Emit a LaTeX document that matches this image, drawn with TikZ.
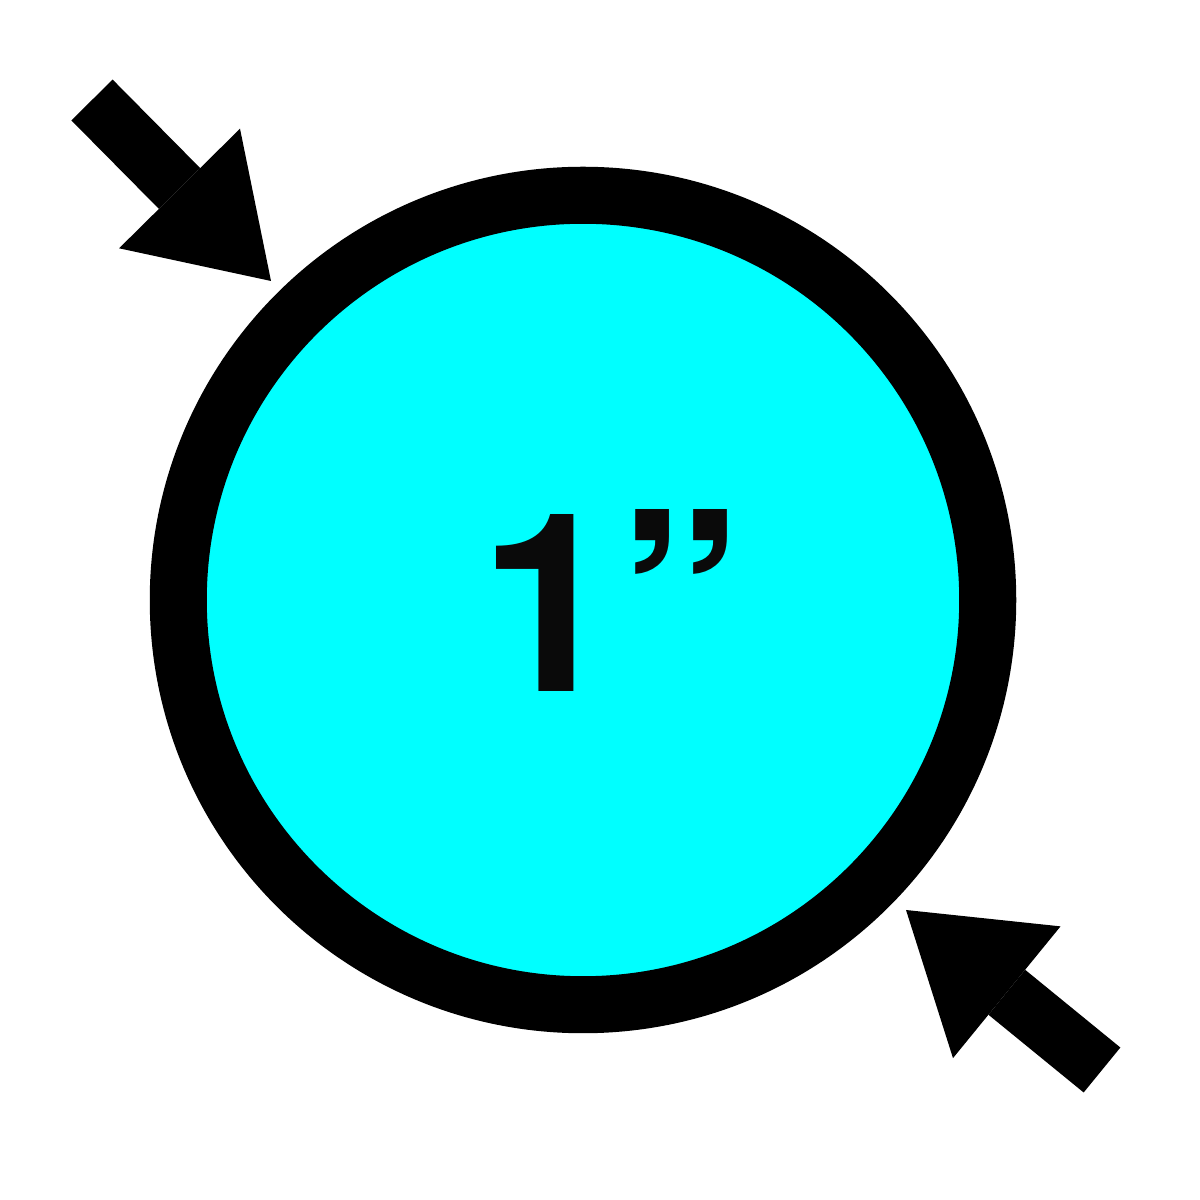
\documentclass[tikz,border=0pt]{standalone}
\usepackage{fontspec}
\newfontfamily\sizefont{TeX Gyre Heros}
\usetikzlibrary{arrows.meta}
\definecolor{pipecyan}{RGB}{0,255,255}

\begin{document}
\begin{tikzpicture}[x=0.01cm, y=0.01cm]
	\tikzstyle{ring}=[draw=black,circle,line width=0.57cm,fill=pipecyan,inner sep=0pt,minimum size=8.09cm]
	\tikzstyle{pointer}=[line width=0.58cm,-{Triangle[length=1.3cm,width=1.7cm,line width=0pt]}]
	\useasboundingbox (0,0) rectangle (1200,1200);

	\node [ring] (pipe) at (583,600) {};
	\node [font=\sizefont\bfseries\fontsize{71}{71}\selectfont,text=black!96] (size) at (611,600) {1”};

	\coordinate (tl tail) at (92,1100);
	\coordinate (tl tip) at (271,919);
	\coordinate (br tail) at (1102,130);
	\coordinate (br tip) at (906,290);

	\draw [pointer] (tl tail) -- (tl tip); % top left
	\draw [pointer] (br tail) -- (br tip); % bottom right
\end{tikzpicture}
\end{document}
